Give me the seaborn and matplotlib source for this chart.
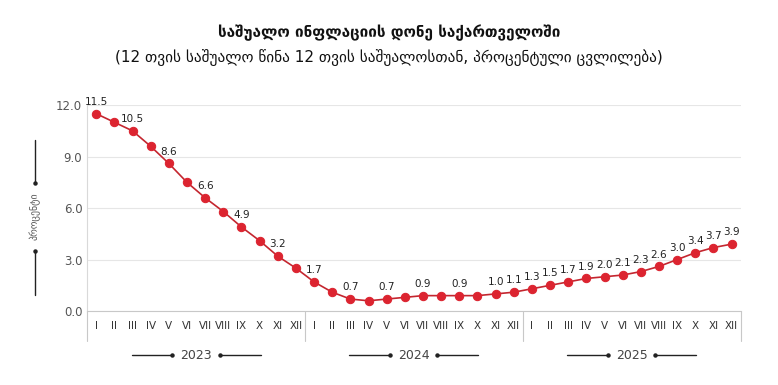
import numpy as np
import pandas as pd
import matplotlib
matplotlib.use("Agg")
import matplotlib.pyplot as plt
import seaborn as sns

# მონაცემები
years = ["2023", "2024", "2025"]
months = ["I", "II", "III", "IV", "V", "VI", "VII", "VIII", "IX", "X", "XI", "XII"]
inflation = [
    11.5, 11.0, 10.5, 9.6, 8.6, 7.5, 6.6, 5.8, 4.9, 4.1, 3.2, 2.5,
    1.7, 1.1, 0.7, 0.6, 0.7, 0.8, 0.9, 0.9, 0.9, 0.9, 1.0, 1.1,
    1.3, 1.5, 1.7, 1.9, 2.0, 2.1, 2.3, 2.6, 3.0, 3.4, 3.7, 3.9,
]
labelled = [0, 2, 4, 6, 8, 10, 12, 14, 16, 18, 20, 22, 23] + list(range(24, 36))
y_ticks = [0.0, 3.0, 6.0, 9.0, 12.0]

title = "საშუალო ინფლაციის დონე საქართველოში"
subtitle = "(12 თვის საშუალო წინა 12 თვის საშუალოსთან, პროცენტული ცვლილება)"
y_label = "პროცენტი"

df = pd.DataFrame({"pos": np.arange(len(inflation)), "value": inflation})

sns.set_style("white")
plt.rcParams["font.family"] = ["DejaVu Sans"]

fig = plt.figure(figsize=(7.78, 3.85), dpi=100)
ax = fig.add_axes([0.112, 0.192, 0.84, 0.535])

sns.lineplot(data=df, x="pos", y="value", ax=ax, color="#c4262f", linewidth=1.2,
             marker="o", markersize=6, markerfacecolor="#dc2430",
             markeredgecolor="#dc2430")

for i in labelled:
    ax.annotate(f"{inflation[i]:.1f}", (i, inflation[i]), xytext=(0, 5),
                textcoords="offset points", ha="center", va="bottom",
                fontsize=7.5, color="#222222")

n = len(inflation)
ax.set_xlim(-0.5, n - 0.5)
ax.set_ylim(0, 12)
ax.set_yticks(y_ticks)
ax.set_yticklabels([f"{t:.1f}" for t in y_ticks], fontsize=8.5, color="#555555")
ax.set_xticks(range(n))
ax.set_xticklabels(months * len(years), fontsize=7.5, color="#333333")
ax.tick_params(axis="both", length=0)
ax.tick_params(axis="x", pad=7)
ax.set_xlabel("")
ax.set_ylabel("")
ax.grid(axis="y", color="#e6e6e6", linewidth=0.8)
ax.set_axisbelow(True)
for s in ["top", "right"]:
    ax.spines[s].set_visible(False)
ax.spines["left"].set_color("#d9d9d9")
ax.spines["bottom"].set_color("#c8c8c8")

# წლების გამყოფები და წარწერები
trans = ax.get_xaxis_transform()
for k in range(len(years) + 1):
    xb = k * 12 - 0.5
    ax.plot([xb, xb], [0, -0.145], transform=trans, color="#c8c8c8",
            linewidth=0.8, clip_on=False)
for k, yr in enumerate(years):
    c = k * 12 + 5.5
    ax.text(c, -0.215, yr, transform=trans, ha="center", va="center",
            fontsize=9, color="#444444")
    ax.plot([c - 3.55, c - 1.3], [-0.215, -0.215], transform=trans, color="#222222",
            linewidth=1, clip_on=False, marker="o", markersize=2.2, markevery=[1])
    ax.plot([c + 1.3, c + 3.55], [-0.215, -0.215], transform=trans, color="#222222",
            linewidth=1, clip_on=False, marker="o", markersize=2.2, markevery=[0])

# y ღერძის წარწერა
fig.text(0.045, 1 - 216 / 385, y_label, rotation=90, ha="center", va="center",
         fontsize=7, color="#555555")
fig.add_artist(plt.Line2D([0.045, 0.045], [1 - 140 / 385, 1 - 183 / 385],
                          color="#222222", linewidth=1, marker="o",
                          markersize=2.2, markevery=[1]))
fig.add_artist(plt.Line2D([0.045, 0.045], [1 - 251 / 385, 1 - 295 / 385],
                          color="#222222", linewidth=1, marker="o",
                          markersize=2.2, markevery=[0]))

fig.text(0.5, 1 - 33 / 385, title, ha="center", va="center", fontsize=11,
         fontweight="bold", color="#111111")
fig.text(0.5, 1 - 58 / 385, subtitle, ha="center", va="center", fontsize=11,
         color="#111111")

fig.savefig("out.png", dpi=100)
